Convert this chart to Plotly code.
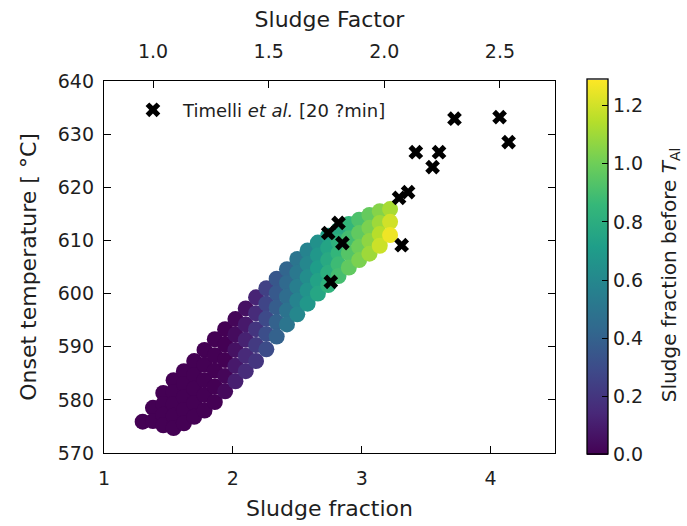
import plotly.graph_objects as go

# Simulated onset points, grouped by sludge-fraction column
col_sludge = [1.30, 1.38, 1.46, 1.54, 1.62, 1.70, 1.78, 1.86, 1.94, 2.02, 2.10, 2.18, 2.26,
              2.34, 2.42, 2.50, 2.58, 2.66, 2.74, 2.82, 2.90, 2.98, 3.06, 3.14, 3.22]
col_onset = [
    [575.9],
    [578.5, 576.0],
    [581.3, 579.2, 577.2, 575.2],
    [583.7, 581.5, 579.2, 577.0, 574.7],
    [585.4, 583.0, 580.5, 578.1, 575.6],
    [587.3, 584.7, 582.1, 579.4, 576.8],
    [589.4, 586.6, 583.7, 580.9, 578.0],
    [591.4, 588.4, 585.5, 582.5, 579.6],
    [593.3, 590.4, 587.5, 584.5, 581.6],
    [595.2, 592.3, 589.4, 586.4, 583.5],
    [597.2, 594.2, 591.3, 588.3, 585.4],
    [599.3, 596.3, 593.3, 590.3, 587.3],
    [601.0, 598.1, 595.3, 592.4, 589.5],
    [602.8, 600.1, 597.4, 594.6, 591.9],
    [604.6, 602.0, 599.4, 596.8, 594.2],
    [606.5, 603.9, 601.3, 598.7, 596.1],
    [608.1, 605.6, 603.1, 600.6, 598.1],
    [609.6, 607.2, 604.8, 602.4, 600.0],
    [610.9, 608.6, 606.3, 603.9, 601.6],
    [612.0, 609.8, 607.6, 605.5, 603.3],
    [613.1, 610.4, 607.6, 604.9],
    [613.9, 611.4, 608.8, 606.3],
    [614.8, 612.4, 609.9, 607.5],
    [615.5, 613.3, 611.2, 609.0],
    [615.9, 613.5, 611.0],
]
col_fraction = [
    [0.0],
    [0.0, 0.0],
    [0.0, 0.0, 0.0, 0.0],
    [0.0, 0.0, 0.0, 0.0, 0.0],
    [0.0, 0.0, 0.0, 0.0, 0.0],
    [0.0, 0.0, 0.0, 0.0, 0.0],
    [0.0, 0.0, 0.0, 0.0, 0.0],
    [0.0, 0.0, 0.0, 0.0, 0.0],
    [0.0, 0.0, 0.0, 0.02, 0.03],
    [0.02, 0.04, 0.06, 0.09, 0.11],
    [0.06, 0.09, 0.12, 0.15, 0.16],
    [0.13, 0.16, 0.20, 0.22, 0.20],
    [0.25, 0.27, 0.29, 0.31, 0.30],
    [0.35, 0.36, 0.38, 0.40, 0.40],
    [0.42, 0.44, 0.46, 0.49, 0.50],
    [0.50, 0.52, 0.55, 0.58, 0.60],
    [0.58, 0.60, 0.63, 0.66, 0.68],
    [0.65, 0.68, 0.71, 0.74, 0.76],
    [0.72, 0.75, 0.78, 0.81, 0.83],
    [0.78, 0.82, 0.85, 0.88, 0.90],
    [0.85, 0.90, 0.94, 0.97],
    [0.92, 0.97, 1.00, 1.03],
    [0.98, 1.03, 1.07, 1.10],
    [1.05, 1.10, 1.15, 1.19],
    [1.12, 1.20, 1.26],
]

# Experimental data (Timelli et al.)
timelli_sludge = [2.76, 2.74, 2.82, 2.85, 3.29, 3.31, 3.36, 3.42, 3.55, 3.60, 3.72, 4.07, 4.14]
timelli_onset = [602.2, 611.4, 613.3, 609.5, 618.0, 609.1, 619.1, 626.6, 623.8, 626.6,
                 632.9, 633.2, 628.5]

# Axis tick labels
x_ticks = [1, 2, 3, 4]
y_ticks = [570, 580, 590, 600, 610, 620, 630, 640]
factor_ticks = [1.0, 1.5, 2.0, 2.5]
frac_ticks = [0.0, 0.2, 0.4, 0.6, 0.8, 1.0, 1.2]

sim_sludge, sim_onset, sim_fraction = [], [], []
for xs, ys, cs in zip(col_sludge, col_onset, col_fraction):
    sim_sludge += [xs] * len(ys)
    sim_onset += ys
    sim_fraction += cs

FONT = "DejaVu Sans"
INK = "#1e1e1e"
NBSP2 = "\u00a0\u00a0"

fig = go.Figure()

fig.add_trace(go.Scatter(
    x=sim_sludge, y=sim_onset, mode="markers", showlegend=False,
    marker=dict(
        size=16, color=sim_fraction, colorscale="Viridis", cmin=0, cmax=1.29,
        line=dict(width=0),
        colorbar=dict(
            x=1.071, xanchor="left", xpad=0, thickness=21,
            len=375, lenmode="pixels", y=0.5, yanchor="middle", ypad=0,
            tickvals=frac_ticks, tickformat=".1f", ticks="inside", ticklen=6,
            tickprefix=NBSP2,
            tickwidth=1.3, tickcolor="black", outlinecolor="black", outlinewidth=1.3,
            tickfont=dict(size=19, family=FONT, color=INK),
        ),
    ),
))

fig.add_trace(go.Scatter(
    x=timelli_sludge, y=timelli_onset, mode="markers",
    name="Timelli <i>et al.</i> [20 ?min]",
    marker=dict(symbol="x", size=13, color="black", line=dict(width=0)),
))

# Placeholder trace so the top (sludge factor) axis is rendered
fig.add_trace(go.Scatter(x=[], y=[], xaxis="x2", yaxis="y", showlegend=False))

# Colour bar caption, set vertically to the right of the bar's labels
fig.add_annotation(
    text="Sludge fraction before <i>T</i><sub>Al</sub>",
    xref="paper", yref="paper", x=1.255, y=0.478, xanchor="center", yanchor="middle",
    textangle=-90, showarrow=False, font=dict(size=20, family=FONT, color=INK),
)

axis_common = dict(
    showline=True, linecolor="black", linewidth=1.3, ticks="inside", ticklen=7,
    tickwidth=1.3, tickcolor="black", showgrid=False, zeroline=False, automargin=False,
    tickfont=dict(size=19, family=FONT, color=INK),
)

fig.update_layout(
    width=687, height=526,
    margin=dict(l=104, r=132, t=81, b=73),
    plot_bgcolor="white", paper_bgcolor="white",
    font=dict(family=FONT, size=19, color=INK),
    xaxis=dict(range=[1, 4.5], tickvals=x_ticks, mirror=False, ticklabelstandoff=8,
               title=dict(text="Sludge fraction", font=dict(size=22), standoff=12),
               **axis_common),
    xaxis2=dict(range=[0.788, 2.738], tickvals=factor_ticks, tickformat=".1f",
                overlaying="x", side="top", anchor="y", ticklabelstandoff=14,
                title=dict(text="Sludge Factor", font=dict(size=22), standoff=6),
                **axis_common),
    yaxis=dict(range=[570, 640], tickvals=y_ticks, mirror="ticks", ticklabelstandoff=5,
               title=dict(text="Onset temperature [ °C]", font=dict(size=22), standoff=15),
               **axis_common),
    legend=dict(x=0.042, y=0.9715, xanchor="left", yanchor="top", itemwidth=50,
                bgcolor="rgba(0,0,0,0)", font=dict(size=18, family=FONT, color=INK)),
)

fig.write_html("out.html")
